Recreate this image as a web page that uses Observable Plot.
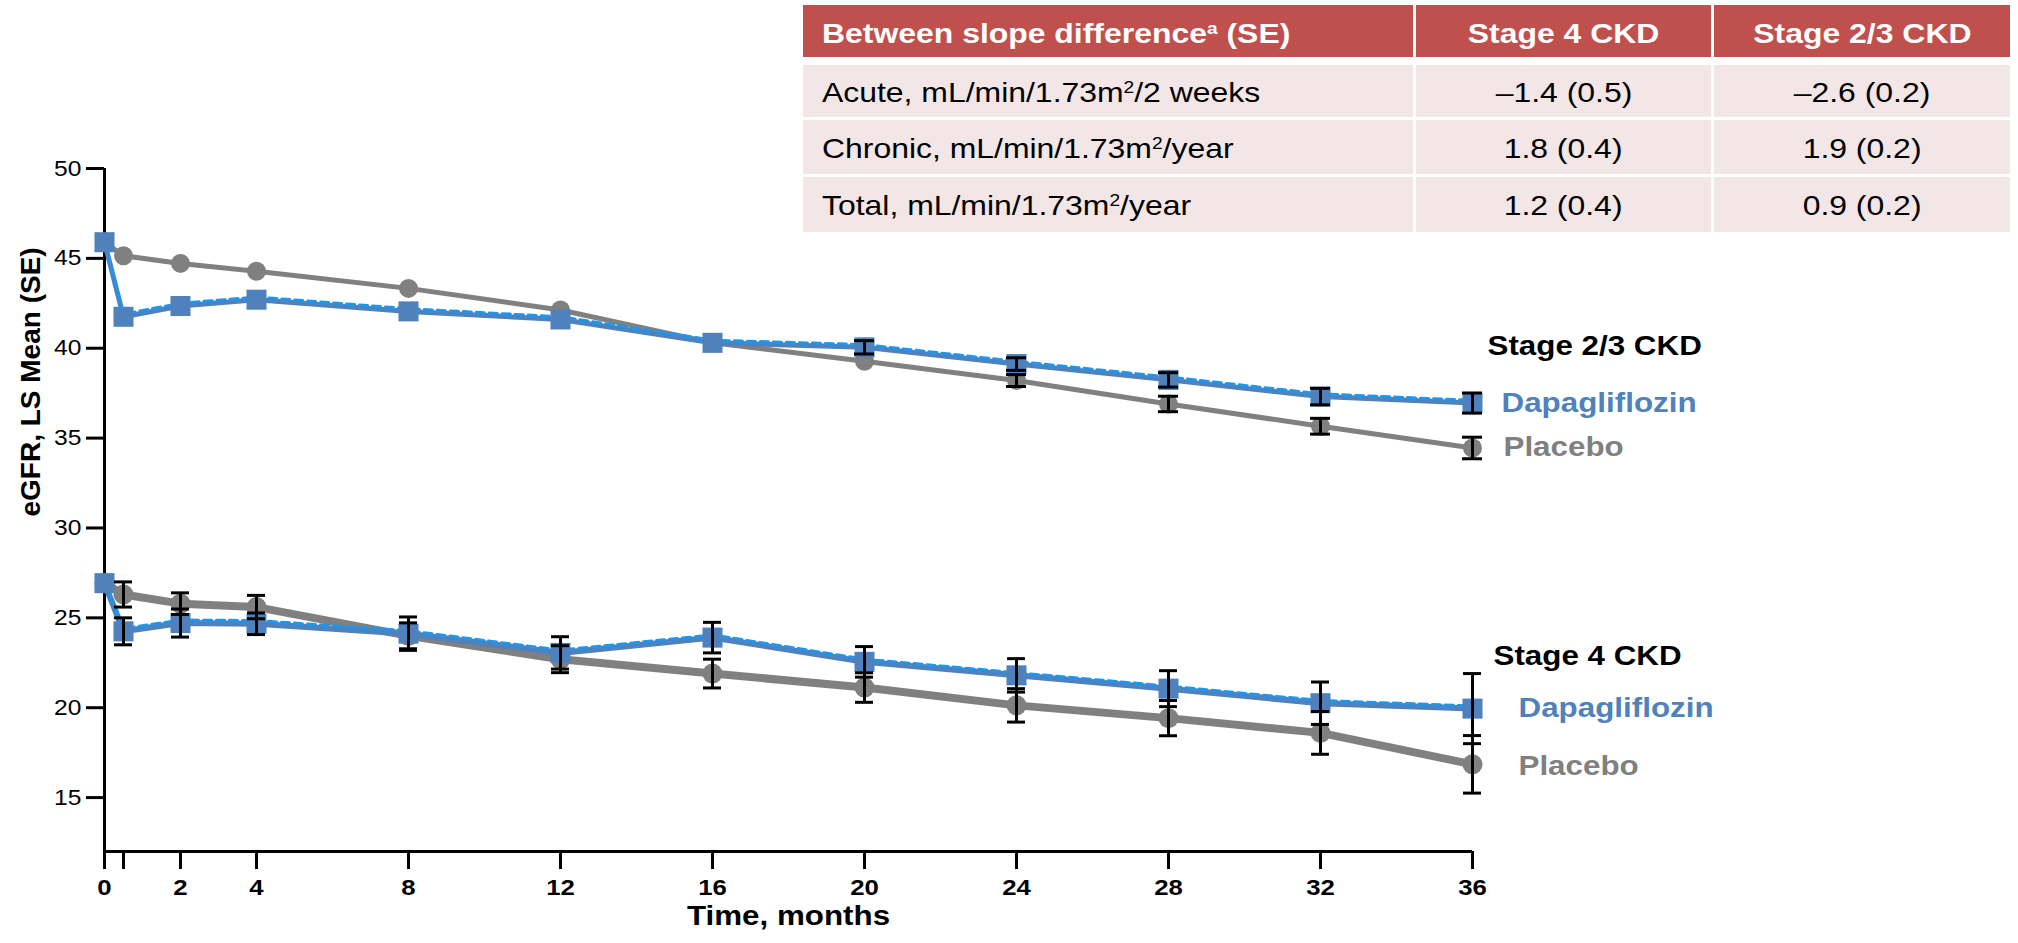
<!DOCTYPE html>
<html>
<head>
<meta charset="utf-8">
<script src="https://cdn.jsdelivr.net/npm/d3@7"></script>
<script src="https://cdn.jsdelivr.net/npm/@observablehq/plot@0.6"></script>
<style>
  body { margin: 0; background: #fff; font-family: "Liberation Sans", Arial, sans-serif; }
  #wrap { position: relative; width: 2018px; height: 943px; overflow: hidden; }
  #chart { position: absolute; left: 0; top: 0; }
  #tbl { position: absolute; left: 803px; top: 5px; width: 1207px; display: grid;
         grid-template-columns: 610px 295px 296px; grid-template-rows: 52px 2px 52px 54px 55px;
         column-gap: 3px; row-gap: 3px; }
  #tbl .cell { display: flex; align-items: center; font-size: 28.5px; white-space: nowrap; }
  #tbl .hd { background: #C0504D; color: #fff; font-weight: bold; padding-top: 4px; box-sizing: border-box; }
  #tbl .bd { background: #F2E6E6; color: #000; padding-top: 2px; box-sizing: border-box; }
  #tbl .c1 { justify-content: flex-start; padding-left: 19px; }
  #tbl .cc { justify-content: center; }
  #tbl .sp { grid-column: 1 / span 3; }
  #tbl span.t { display: inline-block; transform: scaleX(1.12); }
  #tbl .c1 span.t { transform-origin: left center; }
  #tbl .cc span.t { transform-origin: center center; }
  #tbl sup { font-size: 0.6em; vertical-align: 0.55em; line-height: 0; }
</style>
</head>
<body>
<div id="wrap">
  <div id="chart"></div>
  <div id="tbl"></div>
</div>
<script>
// ---------- data ----------
const months = [0, 0.5, 2, 4, 8, 12, 16, 20, 24, 28, 32, 36];
const xTickValues = [0, 0.5, 2, 4, 8, 12, 16, 20, 24, 28, 32, 36];
const yTickValues = [15, 20, 25, 30, 35, 40, 45, 50];

// Stage 2/3 CKD
const s23Dapa      = [45.9, 41.75, 42.35, 42.7, 42.05, 41.6, 40.3, 40.05, 39.12, 38.24, 37.31, 36.95];
const s23DapaSE    = [null, null, null, null, null, null, null, 0.37, 0.35, 0.4, 0.46, 0.56];
const s23DapaFit   = [45.9, 41.9, 42.5, 42.85, 42.2, 41.75, 40.45, 40.2, 39.27, 38.4, 37.46, 37.1];
const s23Placebo   = [45.9, 45.15, 44.72, 44.28, 43.33, 42.13, 40.3, 39.28, 38.2, 36.9, 35.66, 34.45];
const s23PlaceboSE = [null, null, null, null, null, null, null, null, 0.33, 0.43, 0.44, 0.6];

// Stage 4 CKD
const s4Dapa       = [26.93, 24.25, 24.71, 24.67, 24.12, 23.05, 23.9, 22.55, 21.8, 21.06, 20.25, 19.95];
const s4DapaSE     = [null, 0.75, 0.78, 0.6, 0.93, 0.9, 0.85, 0.85, 0.93, 1.0, 1.18, 1.95];
const s4DapaFit    = [26.93, 24.4, 24.88, 24.85, 24.28, 23.2, 24.05, 22.7, 21.95, 21.2, 20.4, 20.1];
const s4Placebo    = [26.93, 26.3, 25.79, 25.6, 24.0, 22.7, 21.9, 21.12, 20.13, 19.42, 18.6, 16.85];
const s4PlaceboSE  = [null, 0.7, 0.6, 0.65, 0.72, 0.75, 0.8, 0.82, 0.93, 0.98, 1.19, 1.6];

const groupLabels = ["Stage 2/3 CKD", "Stage 4 CKD"];
const armLabels = ["Dapagliflozin", "Placebo"];
const xLabel = "Time, months";
const yLabel = "eGFR, LS Mean (SE)";

// table
const tableHeader = ["Between slope difference", "Stage 4 CKD", "Stage 2/3 CKD"];
const rowLabels = ["Acute", "Chronic", "Total"];
const rowUnits = ["/2 weeks", "/year", "/year"];
const stage4Diff = ["\u20131.4 (0.5)", "1.8 (0.4)", "1.2 (0.4)"];
const stage23Diff = ["\u20132.6 (0.2)", "1.9 (0.2)", "0.9 (0.2)"];

// ---------- styles ----------
const BLUE = "#4F81BD", FIT = "#1E96EE", GRAY = "#808080";

const rows = (vals, ses) => months.map((t, i) => ({t, v: vals[i], se: ses ? ses[i] : null}));
const bars = (vals, ses) => rows(vals, ses).filter(d => d.se != null)
  .map(d => ({t: d.t, lo: d.v - d.se, hi: d.v + d.se}));

const d23D = rows(s23Dapa), d23F = rows(s23DapaFit), d23P = rows(s23Placebo);
const d4D = rows(s4Dapa), d4F = rows(s4DapaFit), d4P = rows(s4Placebo);
const e23 = [...bars(s23Dapa, s23DapaSE), ...bars(s23Placebo, s23PlaceboSE)];
const e4 = [...bars(s4Dapa, s4DapaSE), ...bars(s4Placebo, s4PlaceboSE)];

const last = arr => arr[arr.length - 1];
const errMarks = (data, cap) => [
  Plot.ruleX(data, {x: "t", y1: "lo", y2: "hi", stroke: "#000", strokeWidth: 3}),
  Plot.ruleY(data, {y: "lo", x1: "t", x2: "t", insetLeft: -cap, insetRight: -cap, stroke: "#000", strokeWidth: 3}),
  Plot.ruleY(data, {y: "hi", x1: "t", x2: "t", insetLeft: -cap, insetRight: -cap, stroke: "#000", strokeWidth: 3})
];
const lbl = (text, t, v, color, dx, dy, size) =>
  Plot.text([{t, v, text}], {x: "t", y: "v", text: "text", fill: color, dx, dy,
    textAnchor: "start", fontWeight: "bold", fontSize: size});

const chart = Plot.plot({
  width: 2018,
  height: 943,
  marginLeft: 104,
  marginRight: 546,
  marginTop: 168,
  marginBottom: 92,
  style: {fontFamily: "'Liberation Sans', Arial, sans-serif", background: "transparent", overflow: "visible"},
  x: {type: "linear", domain: [0, 36]},
  y: {type: "linear", domain: [12, 50]},
  marks: [
    Plot.ruleX([0], {stroke: "#000", strokeWidth: 3}),
    Plot.ruleY([12], {stroke: "#000", strokeWidth: 3}),
    Plot.axisY({ticks: yTickValues, tickSize: 18, tickPadding: 5, strokeWidth: 3,
      fontSize: 22, tickFormat: d => String(d), label: null}),
    Plot.axisX({ticks: xTickValues, tickSize: 18, tickPadding: 9, strokeWidth: 3,
      fontSize: 23, fontWeight: "bold", tickFormat: d => d === 0.5 ? "" : String(d), label: null}),

    // Stage 4
    Plot.line(d4P, {x: "t", y: "v", stroke: GRAY, strokeWidth: 8, strokeLinejoin: "round"}),
    Plot.dot(d4P, {x: "t", y: "v", r: 10, fill: GRAY, stroke: "none"}),
    Plot.line(d4D, {x: "t", y: "v", stroke: BLUE, strokeWidth: 6, strokeLinejoin: "round"}),
    Plot.line(d4F, {x: "t", y: "v", stroke: FIT, strokeWidth: 3, strokeDasharray: "8,5"}),
    Plot.dot(d4D, {x: "t", y: "v", r: 11.3, symbol: "square", fill: BLUE, stroke: "none"}),
    ...errMarks(e4, 9),

    // Stage 2/3
    Plot.line(d23P, {x: "t", y: "v", stroke: GRAY, strokeWidth: 5, strokeLinejoin: "round"}),
    Plot.dot(d23P, {x: "t", y: "v", r: 9.5, fill: GRAY, stroke: "none"}),
    Plot.line(d23D, {x: "t", y: "v", stroke: BLUE, strokeWidth: 5, strokeLinejoin: "round"}),
    Plot.line(d23F, {x: "t", y: "v", stroke: FIT, strokeWidth: 3, strokeDasharray: "8,5"}),
    Plot.dot(d23D, {x: "t", y: "v", r: 11.3, symbol: "square", fill: BLUE, stroke: "none"}),
    ...errMarks(e23, 10),

    // end-of-line labels
    lbl(groupLabels[0], last(months), last(s23Dapa), "#000", 15, -57, 28),
    lbl(armLabels[0], last(months), last(s23Dapa), BLUE, 29, 0, 28),
    lbl(armLabels[1], last(months), last(s23Placebo), GRAY, 31, -1, 28),
    lbl(groupLabels[1], last(months), last(s4Dapa), "#000", 21, -53, 28),
    lbl(armLabels[0], last(months), last(s4Dapa), BLUE, 46, -1, 28),
    lbl(armLabels[1], last(months), last(s4Placebo), GRAY, 46, 2, 28),

    // axis titles
    Plot.text([xLabel], {frameAnchor: "bottom", dy: 73, fontWeight: "bold", fontSize: 28, fill: "#000"}),
    Plot.text([yLabel], {frameAnchor: "left", rotate: -90, dx: -73, dy: 6.5, fontWeight: "bold", fontSize: 28, fill: "#000"})
  ]
});

// widen horizontal text slightly to match the reference's letter proportions
chart.querySelectorAll("text").forEach(el => {
  const tr = el.getAttribute("transform") || "";
  if (tr.includes("rotate")) return;
  if (tr) el.setAttribute("transform", tr + " scale(1.12,1)");
  else {
    const x = +el.getAttribute("x") || 0, y = +el.getAttribute("y") || 0;
    el.removeAttribute("x"); el.removeAttribute("y");
    el.setAttribute("transform", `translate(${x},${y}) scale(1.12,1)`);
  }
});
document.getElementById("chart").appendChild(chart);

// ---------- table ----------
const tbl = document.getElementById("tbl");
const cell = (cls, html) => { const d = document.createElement("div"); d.className = "cell " + cls;
  d.innerHTML = `<span class="t">${html}</span>`; tbl.appendChild(d); };
cell("hd c1", `${tableHeader[0]}<sup>a</sup> (SE)`);
cell("hd cc", tableHeader[1]);
cell("hd cc", tableHeader[2]);
const spacer = document.createElement("div"); spacer.className = "sp"; tbl.appendChild(spacer);
rowLabels.forEach((r, i) => {
  cell("bd c1", `${r}, mL/min/1.73m<sup>2</sup>${rowUnits[i]}`);
  cell("bd cc", stage4Diff[i]);
  cell("bd cc", stage23Diff[i]);
});
</script>
</body>
</html>
